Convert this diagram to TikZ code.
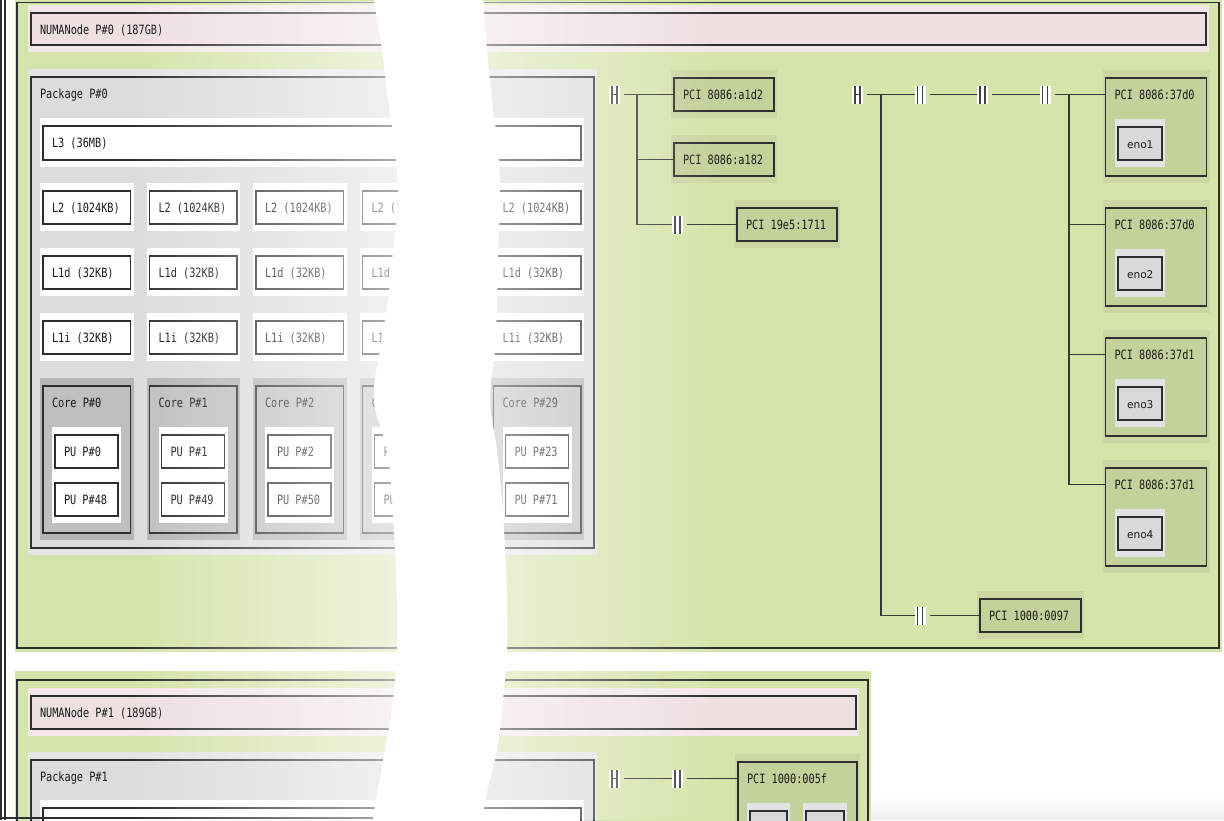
\documentclass[tikz,border=0pt]{standalone}
\usepackage{fontspec}
\setmonofont[FakeStretch=0.8]{DejaVu Sans Mono}
\newfontfamily\enofont{DejaVu Sans}
\usetikzlibrary{fadings}
\definecolor{grpgreen}{HTML}{D5E4AA}
\definecolor{numapink}{HTML}{EFE0E0}
\definecolor{numapad}{HTML}{F3E8E8}
\definecolor{pkgfill}{HTML}{DCDCDC}
\definecolor{pkgpad}{HTML}{E4E4E4}
\definecolor{corefill}{HTML}{BFBFBF}
\definecolor{corepad}{HTML}{B5B5B5}
\definecolor{pcifill}{HTML}{C3D19A}
\definecolor{pcipad}{HTML}{CAD7A2}
\definecolor{osfill}{HTML}{D9D9D9}
\definecolor{ospad}{HTML}{E3E3E3}
\definecolor{edge}{HTML}{2E2E2E}
\tikzfading[name=fadetoright, left color=transparent!100, right color=transparent!38]
\tikzfading[name=fadefromleft, left color=transparent!45, right color=transparent!100]
\tikzfading[name=shadowfade, top color=transparent!100, bottom color=transparent!0]
\tikzset{
  objbox/.style={draw=edge, line width=1.3pt, rectangle, inner sep=0pt, outer sep=0pt},
  lbl/.style={inner sep=0pt, outer sep=0pt, text=black!90, font=\ttfamily\fontsize{12.8}{14}\selectfont},
  enolbl/.style={inner sep=0pt, outer sep=0pt, text=black!90, font=\enofont\fontsize{10.6}{12}\selectfont},
  conn/.style={draw=black!78, line width=1.2pt},
  bridge/.style={rectangle, fill=white, minimum width=11pt, minimum height=18pt, inner sep=0pt, outer sep=0pt,
    path picture={\draw[line width=1.1pt, draw=black!75]
      ([xshift=3pt]path picture bounding box.north west) -- ([xshift=3pt]path picture bounding box.south west)
      ([xshift=-3pt]path picture bounding box.north east) -- ([xshift=-3pt]path picture bounding box.south east);}},
  hostbridge/.style={rectangle, fill=white, minimum width=11pt, minimum height=18pt, inner sep=0pt, outer sep=0pt,
    path picture={\draw[line width=1.1pt, draw=black!75]
      ([xshift=3pt]path picture bounding box.north west) -- ([xshift=3pt]path picture bounding box.south west)
      ([xshift=-3pt]path picture bounding box.north east) -- ([xshift=-3pt]path picture bounding box.south east)
      ([xshift=3pt]path picture bounding box.west) -- ([xshift=-3pt]path picture bounding box.east);}},
  frameline/.style={draw=edge, line width=1.1pt}
}
% name, pad colour, fill colour, x1, y1, x2, y2, label style, label
\newcommand\hwobj[9]{%
  \fill[#2] ({(#4)-3},{(#5)-8}) rectangle ({(#6)+3},{(#7)+7});
  \node[objbox, fill=#3, anchor=north west, minimum width={(#6)-(#4)}, minimum height={(#7)-(#5)}] (#1) at (#4,#5) {};
  \coordinate (#1-in) at (#4,{(#5)+16.5});
  \node[#8, anchor=base west] (#1-t) at ({(#4)+9},{(#5)+21.2}) {#9};
}
\begin{document}
\begin{tikzpicture}[x=1pt,y=-1pt]
\useasboundingbox (0,0) rectangle (1224,820);
\clip (0,0) rectangle (1224,820);

% ---------- first group (NUMA 0) ----------
\fill[grpgreen] (15,0) rectangle (1222,652);
\node[objbox, fill=grpgreen, anchor=north west, minimum width=1202, minimum height=645.5] (grp0) at (17,2.5) {};
\hwobj{numa0}{numapad}{numapink}{31}{13}{1206}{45}{lbl}{NUMANode P\#0 (187GB)}
\hwobj{pkg0}{pkgpad}{pkgfill}{31}{77}{594}{548}{lbl}{Package P\#0}
\hwobj{lthree0}{white}{white}{43}{126}{581}{160}{lbl}{L3 (36MB)}
\foreach \cx/\cn/\pa/\pb [count=\k] in {43/0/0/48, 149.5/1/1/49, 256/2/2/50, 362.5/3/3/51, 493.5/29/23/71} {
  \hwobj{ltwo\k}{white}{white}{\cx}{191}{\cx+87.5}{224}{lbl}{L2 (1024KB)}
  \hwobj{lod\k}{white}{white}{\cx}{256}{\cx+87.5}{289}{lbl}{L1d (32KB)}
  \hwobj{loi\k}{white}{white}{\cx}{321}{\cx+87.5}{354}{lbl}{L1i (32KB)}
  \hwobj{core\k}{corepad}{corefill}{\cx}{386}{\cx+87.5}{533}{lbl}{Core P\#\cn}
  \hwobj{pua\k}{white}{white}{\cx+12}{435}{\cx+75}{468}{lbl}{PU P\#\pa}
  \hwobj{pub\k}{white}{white}{\cx+12}{483}{\cx+75}{516}{lbl}{PU P\#\pb}
}

% PCI tree A
\hwobj{pciA}{pcipad}{pcifill}{674}{78}{774}{111}{lbl}{PCI 8086:a1d2}
\hwobj{pciB}{pcipad}{pcifill}{674}{143}{774}{176}{lbl}{PCI 8086:a182}
\hwobj{pciC}{pcipad}{pcifill}{737}{208}{837}{241}{lbl}{PCI 19e5:1711}
\node[hostbridge] (brA0) at (614.5,94.5) {};
\node[bridge] (brA1) at (677.5,224.5) {};
\coordinate (tA) at (637,94.5);
\draw[conn] ([xshift=4pt]brA0.east) -- (pciA-in);
\draw[conn] (tA) |- (pciB-in);
\draw[conn] (tA) |- (brA1.west);
\draw[conn] ([xshift=4pt]brA1.east) -- (pciC-in);

% PCI tree B
\hwobj{pciD}{pcipad}{pcifill}{1105.5}{78}{1206.5}{176}{lbl}{PCI 8086:37d0}
\hwobj{enoA}{ospad}{osfill}{1118}{127}{1162}{160}{enolbl}{eno1}
\hwobj{pciE}{pcipad}{pcifill}{1105.5}{208}{1206.5}{306}{lbl}{PCI 8086:37d0}
\hwobj{enoB}{ospad}{osfill}{1118}{257}{1162}{290}{enolbl}{eno2}
\hwobj{pciF}{pcipad}{pcifill}{1105.5}{338}{1206.5}{436}{lbl}{PCI 8086:37d1}
\hwobj{enoC}{ospad}{osfill}{1118}{387}{1162}{420}{enolbl}{eno3}
\hwobj{pciG}{pcipad}{pcifill}{1105.5}{468}{1206.5}{566}{lbl}{PCI 8086:37d1}
\hwobj{enoD}{ospad}{osfill}{1118}{517}{1162}{550}{enolbl}{eno4}
\hwobj{pciH}{pcipad}{pcifill}{980}{599}{1081}{632}{lbl}{PCI 1000:0097}
\node[hostbridge] (brB0) at (857.5,94.5) {};
\node[bridge] (brB1) at (920,94.5) {};
\node[bridge] (brB2) at (982.5,94.5) {};
\node[bridge] (brB3) at (1045,94.5) {};
\node[bridge] (brB4) at (920,615.5) {};
\coordinate (tB) at (881,94.5);
\coordinate (tC) at (1069,94.5);
\draw[conn] ([xshift=4pt]brB0.east) -- (brB1.west);
\draw[conn] ([xshift=4pt]brB1.east) -- (brB2.west);
\draw[conn] ([xshift=4pt]brB2.east) -- (brB3.west);
\draw[conn] ([xshift=4pt]brB3.east) -- (pciD-in);
\draw[conn] (tC) |- (pciE-in);
\draw[conn] (tC) |- (pciF-in);
\draw[conn] (tC) |- (pciG-in);
\draw[conn] (tB) |- (brB4.west);
\draw[conn] ([xshift=4pt]brB4.east) -- (pciH-in);

% ---------- second group (NUMA 1) ----------
\fill[grpgreen] (15,671) rectangle (871,830);
\node[objbox, fill=grpgreen, anchor=north west, minimum width=851, minimum height=160] (grp1) at (17,680) {};
\hwobj{numa1}{numapad}{numapink}{31}{696}{856}{729}{lbl}{NUMANode P\#1 (189GB)}
\hwobj{pkg1}{pkgpad}{pkgfill}{31}{760}{594}{900}{lbl}{Package P\#1}
\hwobj{lthree1}{white}{white}{43}{808}{581}{850}{lbl}{}
\hwobj{pciI}{pcipad}{pcifill}{738}{762}{857}{870}{lbl}{PCI 1000:005f}
\hwobj{osA}{ospad}{osfill}{750}{811}{787}{850}{enolbl}{}
\hwobj{osB}{ospad}{osfill}{806}{811}{844}{850}{enolbl}{}
\node[hostbridge] (brC0) at (614.5,778.5) {};
\node[bridge] (brC1) at (677.5,778.5) {};
\draw[conn] ([xshift=4pt]brC0.east) -- (brC1.west);
\draw[conn] ([xshift=4pt]brC1.east) -- (pciI-in);

% ---------- frame lines ----------
\draw[frameline] (1,0) -- (1,820);
\draw[frameline] (5,0) -- (5,820);
\draw[frameline] (0,818) -- (390,818);

% ---------- faint shadow at the bottom right ----------
\fill[black!7, path fading=shadowfade] (871,795) rectangle (1224,820);

% ---------- fades beside the tear ----------
\fill[white, path fading=fadetoright] (130,0) rectangle (402,820);
\fill[white, path fading=fadefromleft] (478,0) rectangle (720,820);

% ---------- the tear ----------
\fill[white] plot[smooth, tension=0.7] coordinates {(373,-5) (382,50) (388,100) (395,150) (398,200) (393,250) (388,300) (380,350) (374,400) (387,450) (392,500) (395,550) (397,600) (397,650) (393,700) (385,750) (376,800) (372,825)}
  -- plot[smooth, tension=0.7] coordinates {(483,825) (485,800) (497,750) (503,700) (507,650) (507,600) (505,550) (502,500) (497,450) (490,400) (495,350) (497,300) (498,250) (500,200) (498,150) (492,100) (487,50) (483,-5)} -- cycle;
\end{tikzpicture}
\end{document}
